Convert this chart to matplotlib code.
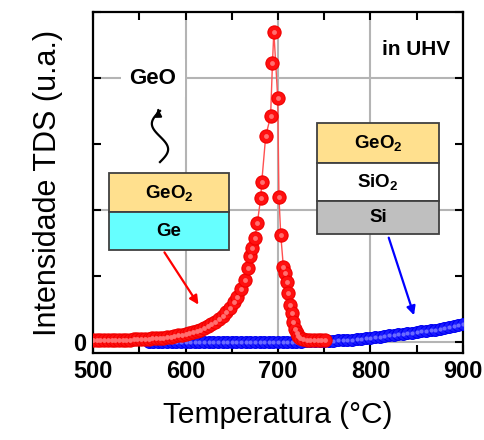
import numpy as np
import matplotlib
matplotlib.use("Agg")
import matplotlib.pyplot as plt
from matplotlib.patches import Rectangle
from matplotlib.ticker import MultipleLocator

plt.rcParams["font.family"] = ["Liberation Sans", "DejaVu Sans"]
plt.rcParams["mathtext.fontset"] = "custom"
plt.rcParams["mathtext.rm"] = "Liberation Sans:bold"
plt.rcParams["mathtext.default"] = "rm"

# GeO2/Ge stack (red) - TDS signal vs temperature
ge_T = [500, 504, 508, 512, 516, 520, 524, 528, 532, 536, 540, 544, 548, 552,
        556, 560, 564, 568, 572, 576, 580, 584, 588, 592, 596, 600, 604, 608,
        612, 616, 620, 624, 628, 632, 636, 640, 644, 648, 652, 656, 660, 664,
        668, 670, 671.5, 675, 677.6, 681.3, 682.4, 686.7, 692, 694, 695.5,
        699.7, 701, 703, 705.8, 707.6, 709.4, 711.2, 713, 714.8, 716.5, 718.5,
        720.2, 722, 724, 727, 731, 735, 739, 743, 747, 751]
ge_I = [0.015, 0.015, 0.015, 0.015, 0.015, 0.016, 0.016, 0.017, 0.017, 0.018,
        0.019, 0.020, 0.021, 0.022, 0.023, 0.025, 0.027, 0.029, 0.031, 0.034,
        0.037, 0.041, 0.045, 0.050, 0.055, 0.061, 0.068, 0.076, 0.085, 0.095,
        0.107, 0.120, 0.135, 0.152, 0.172, 0.195, 0.225, 0.26, 0.30, 0.34,
        0.40, 0.47, 0.56, 0.65, 0.71, 0.79, 0.90, 1.09, 1.21, 1.56, 1.71, 2.11,
        2.35, 1.85, 1.10, 0.81, 0.57, 0.52, 0.457, 0.369, 0.28, 0.217, 0.15,
        0.10, 0.07, 0.045, 0.03, 0.02, 0.015, 0.012, 0.012, 0.012, 0.012, 0.012]

# GeO2/SiO2/Si stack (blue)
si_T = [560, 565, 570, 575, 580, 585, 590, 595, 600, 605, 610, 615, 620, 625,
        630, 635, 640, 645, 650, 655, 660, 665, 670, 675, 680, 685, 690, 695,
        700, 705, 710, 715, 720, 725, 730, 735, 740, 745, 750, 755, 760, 765,
        770, 775, 780, 785, 790, 795, 800, 805, 810, 815, 820, 825, 830, 835,
        840, 845, 850, 855, 860, 865, 870, 875, 880, 885, 890, 895, 900]
si_I = [0.0, 0.0, 0.0, 0.0, 0.0, 0.0, 0.0, 0.0, 0.0, 0.0, 0.0, 0.0, 0.0, 0.0,
        0.0, 0.0, 0.0, 0.0, 0.0, 0.0, 0.0, 0.0, 0.0, 0.0, 0.0, 0.0, 0.0, 0.0,
        0.002, 0.002, 0.003, 0.003, 0.004, 0.004, 0.005, 0.006, 0.006, 0.007,
        0.008, 0.009, 0.010, 0.012, 0.014, 0.016, 0.018, 0.021, 0.024, 0.027,
        0.032, 0.035, 0.040, 0.045, 0.050, 0.053, 0.058, 0.062, 0.066, 0.070,
        0.075, 0.080, 0.085, 0.088, 0.094, 0.100, 0.108, 0.113, 0.120, 0.127,
        0.135]

fig = plt.figure(figsize=(4.85, 4.4), dpi=100)
ax = fig.add_axes([0.1918, 0.1977, 0.7628, 0.775])

ax.plot(si_T, si_I, ls="none", marker="o", ms=8.5, mfc="#1a1aff",
        mec="#0000f0", mew=0.8, zorder=3)
ax.plot(si_T, si_I, ls="none", marker="o", ms=3, mfc="#6a6aff",
        mec="none", zorder=3)
ax.plot(ge_T, ge_I, color="#ff5050", lw=1.0, zorder=4)
ax.plot(ge_T, ge_I, ls="none", marker="o", ms=9.5, mfc="#ff1010",
        mec="#f00000", mew=0.8, zorder=5)
ax.plot(ge_T, ge_I, ls="none", marker="o", ms=3.5, mfc="#ff7070",
        mec="none", zorder=5)

ax.set_xlim(500, 900)
ax.set_ylim(-0.083, 2.5)
ax.set_xticks([500, 600, 700, 800, 900])
ax.xaxis.set_minor_locator(MultipleLocator(50))
ax.set_yticks([0, 1, 2])
ax.set_yticklabels(["0", "", ""])
ax.yaxis.set_minor_locator(MultipleLocator(0.5))
ax.grid(True, which="major", color="#b4b4b4", lw=1.5, zorder=0)
ax.tick_params(which="both", direction="in", top=True, right=True,
               length=6, width=1.5, labelsize=17, pad=5)
for lab in ax.get_xticklabels() + ax.get_yticklabels():
    lab.set_fontweight("bold")
for s in ax.spines.values():
    s.set_linewidth(1.6)

ax.set_xlabel("Temperatura (°C)", fontsize=21.5, labelpad=13)
ax.set_ylabel("Intensidade TDS (u.a.)", fontsize=22, labelpad=7)

ax.text(0.965, 0.889, "in UHV", transform=ax.transAxes, ha="right",
        va="center", fontsize=15, fontweight="bold", zorder=6)
ax.text(0.162, 0.806, "GeO", transform=ax.transAxes, ha="center",
        va="center", fontsize=16, fontweight="bold", zorder=6,
        bbox=dict(fc="white", ec="none", pad=6))


def layer(x0, x1, y0, y1, color, label):
    ax.add_patch(Rectangle((x0, y0), x1 - x0, y1 - y0, transform=ax.transAxes,
                           fc=color, ec="#404040", lw=1.3, zorder=7))
    ax.text((x0 + x1) / 2, (y0 + y1) / 2, label, transform=ax.transAxes,
            ha="center", va="center", fontsize=13.5, fontweight="bold",
            zorder=8)


yellow = "#ffe08e"
layer(0.043, 0.368, 0.413, 0.528, yellow, r"GeO$_2$")
layer(0.043, 0.368, 0.302, 0.413, "#66ffff", "Ge")
layer(0.605, 0.935, 0.557, 0.674, yellow, r"GeO$_2$")
layer(0.605, 0.935, 0.446, 0.557, "white", r"SiO$_2$")
layer(0.605, 0.935, 0.349, 0.446, "#bfbfbf", "Si")

# wavy arrow for desorbing GeO
s = np.linspace(0, 1, 60)
wx = 0.181 + 0.022 * np.sin(2 * np.pi * s)
wy = 0.56 + 0.15 * s
ax.plot(wx, wy, color="black", lw=1.6, transform=ax.transAxes, zorder=6)
ax.annotate("", xy=(0.176, 0.724), xytext=(wx[-3], wy[-3]),
            xycoords="axes fraction", textcoords="axes fraction",
            arrowprops=dict(arrowstyle="-|>", color="black", lw=1.5,
                            mutation_scale=10), zorder=6)

ax.annotate("", xy=(0.289, 0.135), xytext=(0.189, 0.302),
            xycoords="axes fraction", textcoords="axes fraction",
            arrowprops=dict(arrowstyle="-|>", color="red", lw=1.6,
                            mutation_scale=13), zorder=6)
ax.annotate("", xy=(0.870, 0.103), xytext=(0.797, 0.346),
            xycoords="axes fraction", textcoords="axes fraction",
            arrowprops=dict(arrowstyle="-|>", color="blue", lw=1.6,
                            mutation_scale=13), zorder=6)

fig.savefig("out.png", dpi=100)
